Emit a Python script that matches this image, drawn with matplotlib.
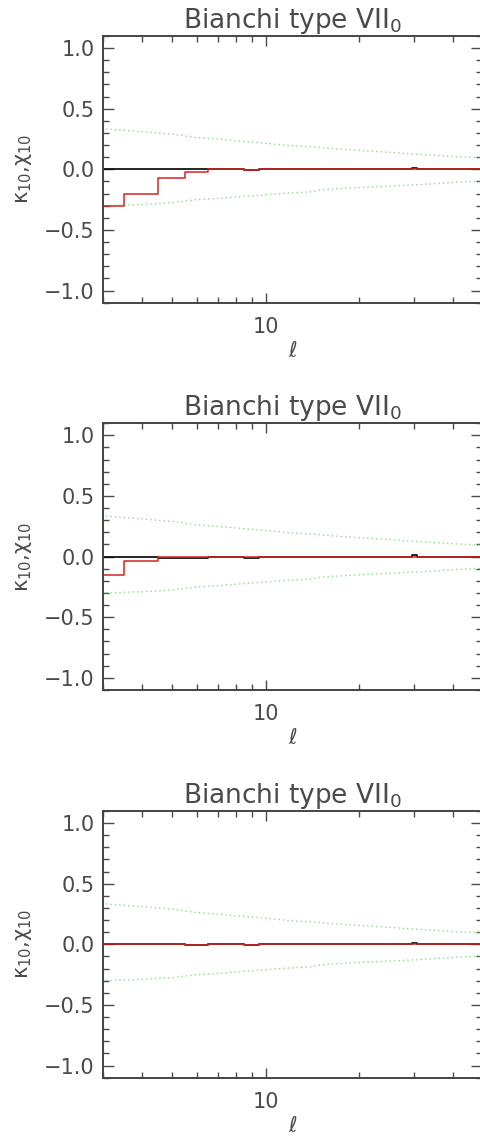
import matplotlib
matplotlib.use('Agg')
import matplotlib.pyplot as plt
from matplotlib.ticker import MultipleLocator, LogLocator, FixedLocator, FixedFormatter, NullFormatter
import numpy as np

# multipole range
ell = np.arange(2, 51)

# 1-sigma bounds from the isotropic simulations (same for all panels)
upper = [0.35, 0.335, 0.31, 0.29, 0.262, 0.25, 0.236, 0.225, 0.215, 0.205,
         0.195, 0.19, 0.185, 0.18, 0.172, 0.168, 0.163, 0.159, 0.156, 0.152,
         0.149, 0.146, 0.143, 0.14, 0.137, 0.134, 0.131, 0.128, 0.125, 0.123,
         0.121, 0.119, 0.117, 0.115, 0.113, 0.111, 0.109, 0.107, 0.105, 0.104,
         0.103, 0.102, 0.101, 0.1, 0.099, 0.098, 0.097, 0.096, 0.095]
lower = [-0.31, -0.30, -0.29, -0.275, -0.25, -0.24, -0.228, -0.218, -0.21, -0.2,
         -0.195, -0.19, -0.185, -0.17, -0.165, -0.16, -0.157, -0.153, -0.15, -0.147,
         -0.144, -0.142, -0.14, -0.138, -0.136, -0.134, -0.132, -0.13, -0.128, -0.126,
         -0.124, -0.122, -0.12, -0.118, -0.116, -0.114, -0.112, -0.11, -0.108, -0.106,
         -0.105, -0.104, -0.103, -0.102, -0.101, -0.1, -0.099, -0.098, -0.097]

# kappa_10 (black) and chi_10 (red) per panel, nonzero entries only
kappa = [{9: -0.008, 30: 0.010},
         {5: -0.008, 6: -0.008, 9: -0.008, 30: 0.010},
         {6: -0.008, 9: -0.008, 30: 0.010}]
chi = [{2: -0.30, 3: -0.30, 4: -0.205, 5: -0.07, 6: -0.02, 9: -0.005},
       {2: -0.148, 3: -0.148, 4: -0.04, 5: -0.005, 6: -0.005, 9: -0.005},
       {6: -0.005, 9: -0.005}]

title = 'Bianchi type VII$_0$'
ylabel = r'$\mathregular{\kappa_{10}{,}\chi_{10}}$'
xlabel = r'$\ell$'

plt.rcParams['font.family'] = ['DejaVu Sans']
plt.rcParams['mathtext.fontset'] = 'dejavusans'
grey = '#4a4a4a'

fig = plt.figure(figsize=(4.8, 11.38), dpi=100)
bottoms = [0.734, 0.3937, 0.053]
for i, b in enumerate(bottoms):
    ax = fig.add_axes([103 / 480, b, 379 / 480, 0.2344])
    k = np.array([kappa[i].get(l, 0.0) for l in ell])
    c = np.array([chi[i].get(l, 0.0) for l in ell])
    ax.plot(ell, upper, color='#66cc66', lw=1.0, ls=(0, (1, 2.2)), alpha=0.75)
    ax.plot(ell, lower, color='#66cc66', lw=1.0, ls=(0, (1, 2.2)), alpha=0.75)
    ax.plot(ell, k, color='black', lw=1.2, drawstyle='steps-mid')
    ax.plot(ell, c, color='#d42424', lw=1.1, drawstyle='steps-mid')

    ax.set_xscale('log')
    ax.set_xlim(3, 49.5)
    ax.set_ylim(-1.1, 1.1)
    ax.xaxis.set_major_locator(FixedLocator([10]))
    ax.xaxis.set_major_formatter(FixedFormatter(['10']))
    ax.xaxis.set_minor_locator(LogLocator(base=10, subs=np.arange(2, 10)))
    ax.xaxis.set_minor_formatter(NullFormatter())
    ax.yaxis.set_major_locator(MultipleLocator(0.5))
    ax.yaxis.set_minor_locator(MultipleLocator(0.1))
    ax.tick_params(which='both', direction='in', top=True, right=True, colors=grey,
                   labelcolor=grey, labelsize=15, width=1.0)
    ax.tick_params(which='major', length=8, pad=6)
    ax.tick_params(which='minor', length=4)
    ax.tick_params(axis='x', which='major', length=7, pad=10)
    for s in ax.spines.values():
        s.set_color('#444444')
        s.set_linewidth(1.4)

    ax.set_title(title, fontsize=19, color=grey, pad=1)
    ax.set_xlabel(xlabel, fontsize=15, color=grey, labelpad=3)
    ax.set_ylabel(ylabel, fontsize=15, color=grey, labelpad=7)

fig.savefig('out.png', dpi=100)
